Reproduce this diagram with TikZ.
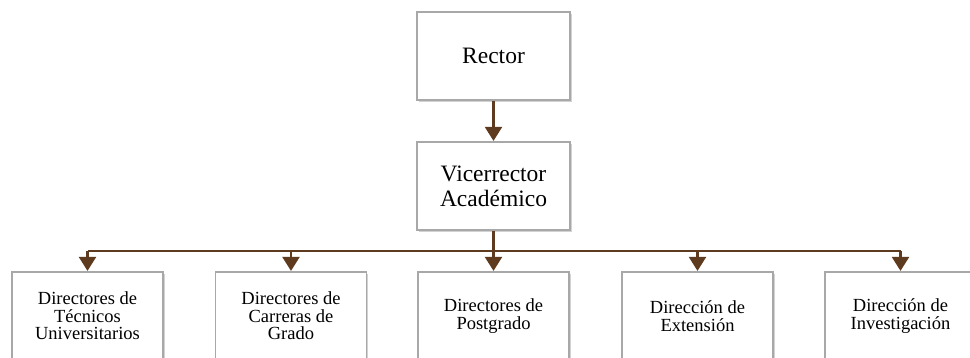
\documentclass[tikz,border=0pt]{standalone}
\usepackage{fontspec}
\setmainfont{Liberation Serif}
\usetikzlibrary{arrows.meta,shadows}
\definecolor{brn}{HTML}{5E3A1E}
\definecolor{bordergray}{HTML}{A8A8A8}
\tikzset{
  topbox/.style={draw=bordergray, line width=1.2pt, fill=white, minimum width=153pt, minimum height=88pt,
    align=center, inner sep=0pt, font=\rmfamily\fontsize{23.5}{25}\selectfont,
    drop shadow={shadow xshift=1.8pt, shadow yshift=-1.8pt, opacity=0.35, fill=gray}},
  botbox/.style={draw=bordergray, line width=1.2pt, fill=white, minimum width=151pt, minimum height=88pt,
    align=center, inner sep=0pt, font=\rmfamily\fontsize{18.5}{17.5}\selectfont,
    drop shadow={shadow xshift=1.8pt, shadow yshift=-1.8pt, opacity=0.35, fill=gray}},
  conn/.style={draw=brn, line width=2.2pt},
  arr/.style={conn, -{Triangle[width=17pt,length=14pt]}, shorten >=0.5pt},
}
\begin{document}
\begin{tikzpicture}[x=1pt,y=-1pt]
\useasboundingbox[fill=white] (0,0) rectangle (970,358);
\node[topbox] (rector) at (493.5,56) {Rector};
\node[topbox] (vice) at (493.5,186) {Vicerrector\\Académico};
\node[botbox] (b1) at (87.5,316) {Directores de\\Técnicos\\Universitarios};
\node[botbox] (b2) at (291,316) {Directores de\\Carreras de\\Grado};
\node[botbox] (b3) at (493.5,316) {Directores de\\Postgrado};
\node[botbox] (b4) at (697.5,316) {Dirección de\\Extensión};
\node[botbox] (b5) at (900.5,316) {Dirección de\\Investigación};
\coordinate (bus) at (493.5,251);
\draw[arr] (rector) -- (vice);
\draw[conn] (b1.north |- bus) -- (b5.north |- bus);
\draw[arr] (vice.south) -- (b3.north);
\foreach \n in {b1,b2,b4,b5}{
  \draw[arr] (\n.north |- bus) -- (\n.north);
}
\end{tikzpicture}
\end{document}
